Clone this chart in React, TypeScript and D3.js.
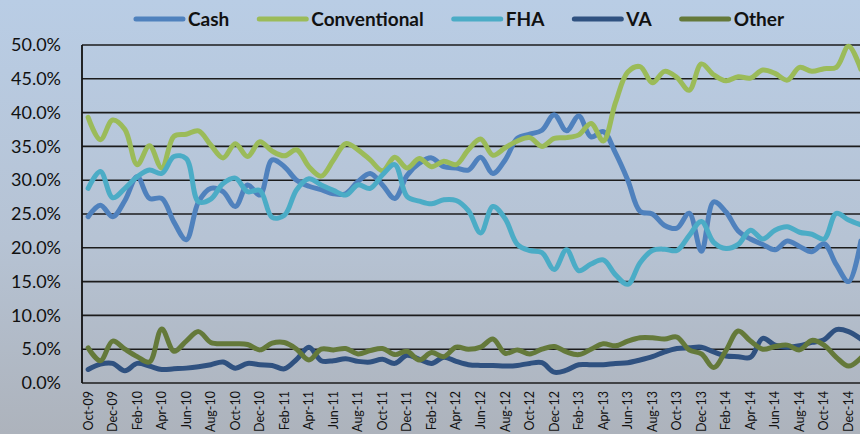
import React, { useEffect, useRef } from "react";
import * as d3 from "d3";

const months = [
  "Oct-09", "Nov-09", "Dec-09", "Jan-10", "Feb-10", "Mar-10", "Apr-10", "May-10",
  "Jun-10", "Jul-10", "Aug-10", "Sep-10", "Oct-10", "Nov-10", "Dec-10", "Jan-11",
  "Feb-11", "Mar-11", "Apr-11", "May-11", "Jun-11", "Jul-11", "Aug-11", "Sep-11",
  "Oct-11", "Nov-11", "Dec-11", "Jan-12", "Feb-12", "Mar-12", "Apr-12", "May-12",
  "Jun-12", "Jul-12", "Aug-12", "Sep-12", "Oct-12", "Nov-12", "Dec-12", "Jan-13",
  "Feb-13", "Mar-13", "Apr-13", "May-13", "Jun-13", "Jul-13", "Aug-13", "Sep-13",
  "Oct-13", "Nov-13", "Dec-13", "Jan-14", "Feb-14", "Mar-14", "Apr-14", "May-14",
  "Jun-14", "Jul-14", "Aug-14", "Sep-14", "Oct-14", "Nov-14", "Dec-14", "Jan-15",
];

const cash = [
  24.6, 26.3, 24.6, 27.0, 30.5, 27.3, 27.3, 23.8, 21.2, 26.8,
  28.8, 28.3, 26.1, 29.3, 27.8, 33.0, 32.0, 30.0, 29.1, 28.6,
  28.0, 28.0, 29.8, 31.0, 29.3, 27.3, 30.7, 32.5, 33.3, 32.0,
  31.8, 31.5, 33.4, 31.0, 33.0, 36.2, 36.8, 37.4, 39.7, 37.3,
  39.5, 36.4, 37.2, 34.0, 30.0, 25.4, 25.0, 23.3, 22.9, 25.1,
  19.5, 26.8, 25.3, 22.5, 21.3, 20.5, 19.7, 21.0, 20.2, 19.4,
  20.6, 17.5, 15.0, 21.0,
];

const conventional = [
  39.3, 36.0, 38.9, 37.5, 32.3, 35.1, 31.8, 36.5, 36.8, 37.3,
  35.2, 33.3, 35.4, 33.5, 35.7, 34.3, 33.6, 34.5, 32.0, 30.6,
  33.0, 35.4, 34.5, 33.0, 31.4, 33.4, 31.8, 33.2, 32.0, 32.8,
  32.3, 34.5, 36.1, 33.7, 34.8, 35.8, 36.3, 35.0, 36.2, 36.3,
  36.7, 38.4, 35.8, 41.5, 46.0, 46.8, 44.4, 46.1, 45.2, 43.3,
  47.2, 45.6, 44.7, 45.3, 45.1, 46.3, 45.8, 44.8, 46.7, 46.1,
  46.5, 46.7, 49.8, 46.4,
];

const fha = [
  28.8, 31.3, 27.4, 28.8, 30.5, 31.5, 31.0, 33.5, 33.2, 26.8,
  27.2, 29.5, 30.3, 28.3, 28.5, 24.5, 24.8, 28.6, 30.2, 29.3,
  28.5, 27.8, 29.3, 28.8, 30.8, 32.3, 27.6, 26.9, 26.5, 27.1,
  27.0, 25.5, 22.2, 26.1, 24.3, 20.5, 19.6, 19.3, 16.8, 19.7,
  16.6, 17.6, 18.2, 16.0, 14.6, 17.8, 19.6, 19.8, 19.6, 21.8,
  23.9, 20.8, 19.9, 20.5, 22.6, 21.3, 22.6, 23.1, 22.3, 22.0,
  21.3, 25.1, 24.1, 23.4,
];

const va = [
  2.0, 2.8, 2.9, 1.8, 2.9, 2.5, 2.0, 2.1, 2.2, 2.4,
  2.7, 3.1, 2.2, 2.9, 2.7, 2.6, 2.1, 3.5, 5.3, 3.3,
  3.3, 3.6, 3.2, 3.1, 3.5, 2.9, 4.1, 3.5, 2.9, 3.8,
  3.2, 2.7, 2.6, 2.6, 2.5, 2.6, 2.9, 3.0, 1.6, 1.9,
  2.7, 2.7, 2.7, 2.9, 3.0, 3.4, 3.9, 4.6, 5.1, 5.2,
  5.3, 4.6, 4.0, 3.9, 3.8, 6.6, 5.6, 5.3, 5.5, 6.0,
  6.4, 7.9, 7.6, 6.5,
];

const other = [
  5.2, 3.3, 6.2, 5.0, 3.9, 3.1, 8.0, 4.7, 6.2, 7.6,
  6.0, 5.8, 5.8, 5.7, 4.9, 5.9, 6.0, 5.0, 3.4, 5.0,
  4.9, 5.1, 4.3, 4.8, 5.1, 4.2, 4.7, 3.4, 4.5, 3.9,
  5.3, 5.0, 5.3, 6.5, 4.4, 4.9, 4.3, 5.0, 5.4, 4.6,
  4.2, 5.0, 5.8, 5.5, 6.2, 6.7, 6.7, 6.5, 6.8, 4.9,
  4.3, 2.3, 4.8, 7.7, 6.2, 5.0, 5.4, 5.6, 4.9, 6.3,
  5.6, 3.8, 2.5, 3.7,
];

const seriesNames = ["Cash", "Conventional", "FHA", "VA", "Other"];
const seriesValues = [cash, conventional, fha, va, other];
const seriesColors = ["#4f81bd", "#9bbb59", "#4bacc6", "#2f5180", "#64793a"];

const yTicks = [0, 5, 10, 15, 20, 25, 30, 35, 40, 45, 50];

const width = 860,
  height = 434;
const margin = { top: 45, left: 82, bottom: 51 };
const plotWidth = 785;
const font = "Lato, 'Open Sans', sans-serif";

export default function App(): JSX.Element {
  const svgRef = useRef<SVGSVGElement>(null);

  useEffect(() => {
    if (!svgRef.current) return;
    const svg = d3.select(svgRef.current);
    svg.selectAll("*").remove();

    const x = d3
      .scaleBand()
      .domain(months)
      .range([margin.left, margin.left + plotWidth]);
    const y = d3
      .scaleLinear()
      .domain([0, 50])
      .range([height - margin.bottom, margin.top]);
    const cx = (m: string) => (x(m) as number) + x.bandwidth() / 2;

    const grad = svg
      .append("defs")
      .append("linearGradient")
      .attr("id", "bg")
      .attr("x1", 0)
      .attr("y1", 0)
      .attr("x2", 0)
      .attr("y2", 1);
    grad.append("stop").attr("offset", "0%").attr("stop-color", "#b9cde5");
    grad.append("stop").attr("offset", "55%").attr("stop-color", "#b6c3d4");
    grad.append("stop").attr("offset", "100%").attr("stop-color", "#adb3bc");

    svg
      .append("rect")
      .attr("width", width)
      .attr("height", height)
      .attr("fill", "url(#bg)");

    // gridlines
    svg
      .append("g")
      .selectAll("line")
      .data(yTicks)
      .join("line")
      .attr("x1", margin.left)
      .attr("x2", width)
      .attr("y1", (d) => y(d))
      .attr("y2", (d) => y(d))
      .attr("stroke", "#1c1c1c")
      .attr("stroke-width", 1.6);

    svg
      .append("line")
      .attr("x1", margin.left)
      .attr("x2", margin.left)
      .attr("y1", y(50))
      .attr("y2", y(0))
      .attr("stroke", "#111")
      .attr("stroke-width", 1.8);

    const yAxis = d3
      .axisLeft(y)
      .tickValues(yTicks)
      .tickSize(0)
      .tickPadding(21)
      .tickFormat((d) => `${(d as number).toFixed(1)}%`);
    svg
      .append("g")
      .attr("transform", `translate(${margin.left},0)`)
      .call(yAxis)
      .call((g) => g.select(".domain").remove())
      .selectAll("text")
      .attr("font-family", font)
      .attr("font-size", 18)
      .attr("fill", "#111");

    const xAxis = d3
      .axisBottom(x)
      .tickValues(months.filter((m, i) => i % 2 === 0))
      .tickSize(0);
    svg
      .append("g")
      .attr("transform", `translate(0,${y(0)})`)
      .call(xAxis)
      .call((g) => g.select(".domain").remove())
      .selectAll("text")
      .attr("font-family", font)
      .attr("font-size", 12.5)
      .attr("fill", "#111")
      .attr("transform", "rotate(-90)")
      .attr("text-anchor", "end")
      .attr("x", -8)
      .attr("y", 0)
      .attr("dy", "0.35em");

    const line = d3
      .line<number>()
      .x((d, i) => cx(months[i]))
      .y((d) => y(d))
      .curve(d3.curveCatmullRom.alpha(0.5));

    svg
      .append("g")
      .selectAll("path")
      .data(seriesValues)
      .join("path")
      .attr("d", (d) => line(d))
      .attr("fill", "none")
      .attr("stroke", (d, i) => seriesColors[i])
      .attr("stroke-width", 5)
      .attr("stroke-linejoin", "round")
      .attr("stroke-linecap", "round");

    // legend
    const legend = svg.append("g").attr("font-family", font);
    const items = legend
      .selectAll("g")
      .data(seriesNames)
      .join("g");
    items
      .append("line")
      .attr("x1", 0)
      .attr("x2", 47)
      .attr("y1", 0)
      .attr("y2", 0)
      .attr("stroke", (d, i) => seriesColors[i])
      .attr("stroke-width", 5)
      .attr("stroke-linecap", "round");
    items
      .append("text")
      .attr("x", 52)
      .attr("dy", "0.35em")
      .attr("font-size", 19)
      .attr("font-weight", "bold")
      .attr("fill", "#111")
      .text((d) => d);

    let cursor = 0;
    const offsets: number[] = [];
    items.each(function () {
      const t = d3.select(this).select("text").node() as SVGTextElement;
      offsets.push(cursor);
      cursor += 52 + t.getComputedTextLength() + 30;
    });
    const total = cursor - 30;
    const start = 460 - total / 2;
    items.attr("transform", (d, i) => `translate(${start + offsets[i]},19)`);
  }, []);

  return (
    <svg
      ref={svgRef}
      width={width}
      height={height}
      style={{ position: "absolute", left: 0, top: 0 }}
    />
  );
}
